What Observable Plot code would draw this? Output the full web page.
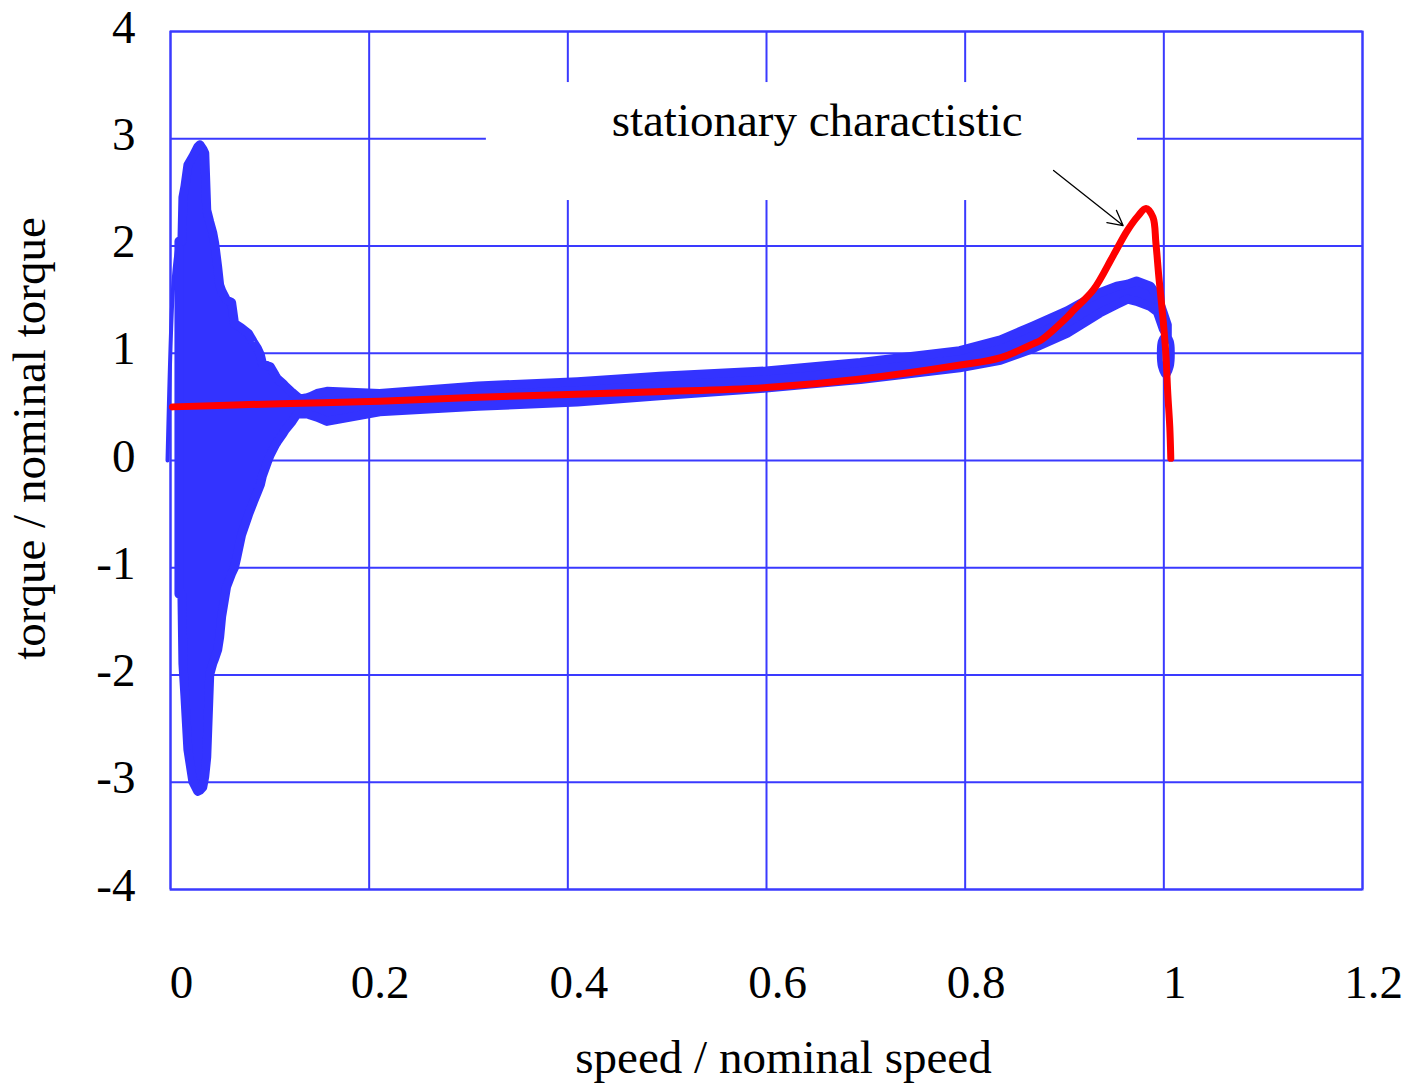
<!DOCTYPE html>
<html>
<head>
<meta charset="utf-8">
<script src="https://cdn.jsdelivr.net/npm/d3@7"></script>
<script src="https://cdn.jsdelivr.net/npm/@observablehq/plot@0.6"></script>
<style>
  html, body { margin: 0; padding: 0; background: white; }
</style>
</head>
<body>
<div id="chart"></div>
<script>
// ---- axis ticks ----
const xTicks = [0, 0.2, 0.4, 0.6, 0.8, 1, 1.2];
const xTickLabels = ["0", "0.2", "0.4", "0.6", "0.8", "1", "1.2"];
const yTicks = [-4, -3, -2, -1, 0, 1, 2, 3, 4];
const yTickLabels = ["-4", "-3", "-2", "-1", "0", "1", "2", "3", "4"];

// ---- simulated torque trace (blue): start-up line ----
const startX = [-0.003, 0.002, 0.005, 0.008];
const startY = [0.0, 1.52, 1.86, 2.05];

// ---- simulated torque trace (blue): oscillation envelope ----
const blueX  = [0.009, 0.012, 0.013, 0.015, 0.018, 0.023, 0.028, 0.030, 0.033, 0.035, 0.037, 0.040, 0.043, 0.045, 0.048, 0.050, 0.052, 0.057, 0.062, 0.065, 0.067, 0.072, 0.079, 0.084, 0.088, 0.091, 0.093, 0.098, 0.101, 0.106, 0.108, 0.114, 0.116, 0.123, 0.128, 0.131, 0.138, 0.141, 0.148, 0.158, 0.211, 0.31, 0.41, 0.493, 0.60, 0.695, 0.795, 0.836, 0.869, 0.903, 0.936, 0.953, 0.964, 0.973, 0.987, 0.994, 1.000, 1.004];
const blueHi = [2.04, 2.04, 2.45, 2.55, 2.75, 2.83, 2.92, 2.94, 2.90, 2.86, 2.33, 2.22, 2.12, 2.02, 1.80, 1.63, 1.58, 1.49, 1.47, 1.27, 1.26, 1.23, 1.18, 1.10, 1.04, 0.98, 0.90, 0.88, 0.87, 0.79, 0.76, 0.71, 0.69, 0.63, 0.59, 0.57, 0.58, 0.59, 0.62, 0.64, 0.62, 0.69, 0.73, 0.78, 0.83, 0.91, 1.02, 1.12, 1.25, 1.39, 1.56, 1.62, 1.64, 1.67, 1.62, 1.53, 1.37, 1.26];
const blueLo = [-1.25, -1.25, -1.90, -2.20, -2.70, -3.00, -3.09, -3.08, -3.05, -2.95, -2.77, -2.00, -1.90, -1.85, -1.77, -1.65, -1.46, -1.18, -1.06, -1.00, -0.92, -0.70, -0.51, -0.39, -0.30, -0.23, -0.15, -0.02, 0.05, 0.14, 0.17, 0.25, 0.28, 0.36, 0.43, 0.43, 0.43, 0.42, 0.40, 0.36, 0.45, 0.50, 0.54, 0.60, 0.67, 0.75, 0.86, 0.93, 1.04, 1.18, 1.37, 1.45, 1.50, 1.48, 1.43, 1.38, 1.22, 1.16];

// ---- final loop around the operating point ----
const loopX = [1.002, 1.006, 1.007, 1.006, 1.002, 0.998, 0.997, 0.998, 1.002];
const loopY = [1.17, 1.11, 1.00, 0.88, 0.80, 0.88, 1.00, 1.11, 1.17];

// ---- steady state (yellow) ----
const steadyX = [1.002, 1.002];
const steadyY = [1.07, 0.93];

// ---- stationary characteristic (red) ----
const redX = [0.002, 0.11, 0.2, 0.31, 0.49, 0.6, 0.695, 0.795, 0.836, 0.869, 0.876, 0.903, 0.909, 0.929, 0.949, 0.963, 0.974, 0.982, 0.989, 0.992, 0.995, 0.999, 1.002, 1.004, 1.006, 1.007];
const redY = [0.50, 0.53, 0.55, 0.59, 0.64, 0.68, 0.76, 0.89, 0.96, 1.09, 1.12, 1.34, 1.40, 1.59, 1.91, 2.14, 2.28, 2.35, 2.27, 2.03, 1.71, 1.34, 1.00, 0.62, 0.31, 0.02];

// ---- annotation ----
const noteText = ["stationary charactistic"];
const noteX = [0.651];
const noteY = [3.17];
const noteBoxX = [0.318, 0.9735];
const noteBoxY = [2.424, 3.524];
const arrowFrom = [0.889, 2.704];
const arrowTo = [0.959, 2.191];

const xLabel = "speed / nominal speed";
const yLabel = "torque / nominal torque";

// ---- build tables ----
const band = blueX.map((x, i) => ({x, hi: blueHi[i], lo: blueLo[i]}));
const startLine = startX.map((x, i) => ({x, y: startY[i]}));
const loop = loopX.map((x, i) => ({x, y: loopY[i]}));
const steady = steadyX.map((x, i) => ({x, y: steadyY[i]}));
const red = redX.map((x, i) => ({x, y: redY[i]}));

const gridColor = "#3a3aff";
const blue = "#3333ff";
const FS = 47;

const chart = Plot.plot({
  width: 1418,
  height: 1090,
  marginTop: 31,
  marginRight: 56,
  marginBottom: 201,
  marginLeft: 170,
  style: {fontFamily: "'Liberation Serif', 'Times New Roman', Times, serif", background: "white", color: "black"},
  x: {domain: [0, 1.2], axis: null},
  y: {domain: [-4, 4], axis: null},
  marks: [
    Plot.gridX(xTicks, {stroke: gridColor, strokeOpacity: 1, strokeWidth: 2}),
    Plot.gridY(yTicks, {stroke: gridColor, strokeOpacity: 1, strokeWidth: 2}),
    Plot.rect([0], {x1: () => noteBoxX[0], x2: () => noteBoxX[1], y1: () => noteBoxY[0], y2: () => noteBoxY[1], fill: "white"}),
    Plot.text(noteText, {x: (d, i) => noteX[i], y: (d, i) => noteY[i], text: d => d, fontSize: FS, fill: "black", lineAnchor: "middle"}),
    Plot.frame({stroke: gridColor, strokeWidth: 2}),
    Plot.line(startLine, {x: "x", y: "y", stroke: blue, strokeWidth: 4, curve: "catmull-rom"}),
    Plot.areaY(band, {x: "x", y1: "lo", y2: "hi", fill: blue, stroke: blue, strokeWidth: 9, strokeLinejoin: "round"}),
    Plot.line(loop, {x: "x", y: "y", stroke: blue, strokeWidth: 8, curve: "catmull-rom-closed"}),
    Plot.line(steady, {x: "x", y: "y", stroke: "yellow", strokeWidth: 6, strokeLinecap: "round"}),
    Plot.line(red, {x: "x", y: "y", stroke: "#ff0000", strokeWidth: 7, curve: "catmull-rom"}),
    Plot.arrow([0], {x1: () => arrowFrom[0], y1: () => arrowFrom[1], x2: () => arrowTo[0], y2: () => arrowTo[1], stroke: "black", strokeWidth: 1.3, headLength: 19, headAngle: 56}),
    Plot.text(xTicks, {x: d => d, text: (d, i) => xTickLabels[i], frameAnchor: "bottom", dy: 93, dx: 11, fontSize: FS, fill: "black", lineAnchor: "middle"}),
    Plot.text(yTicks, {y: d => d, text: (d, i) => yTickLabels[i], frameAnchor: "left", textAnchor: "end", dx: -35, dy: -4, fontSize: FS, fill: "black", lineAnchor: "middle"}),
    Plot.text([xLabel], {text: d => d, frameAnchor: "bottom", textAnchor: "middle", dx: 17, dy: 168, fontSize: FS, fill: "black", lineAnchor: "middle"}),
    Plot.text([yLabel], {text: d => d, frameAnchor: "left", textAnchor: "middle", rotate: -90, dx: -141, dy: -22, fontSize: FS, fill: "black", lineAnchor: "middle"})
  ]
});
document.getElementById("chart").appendChild(chart);
</script>
</body>
</html>
